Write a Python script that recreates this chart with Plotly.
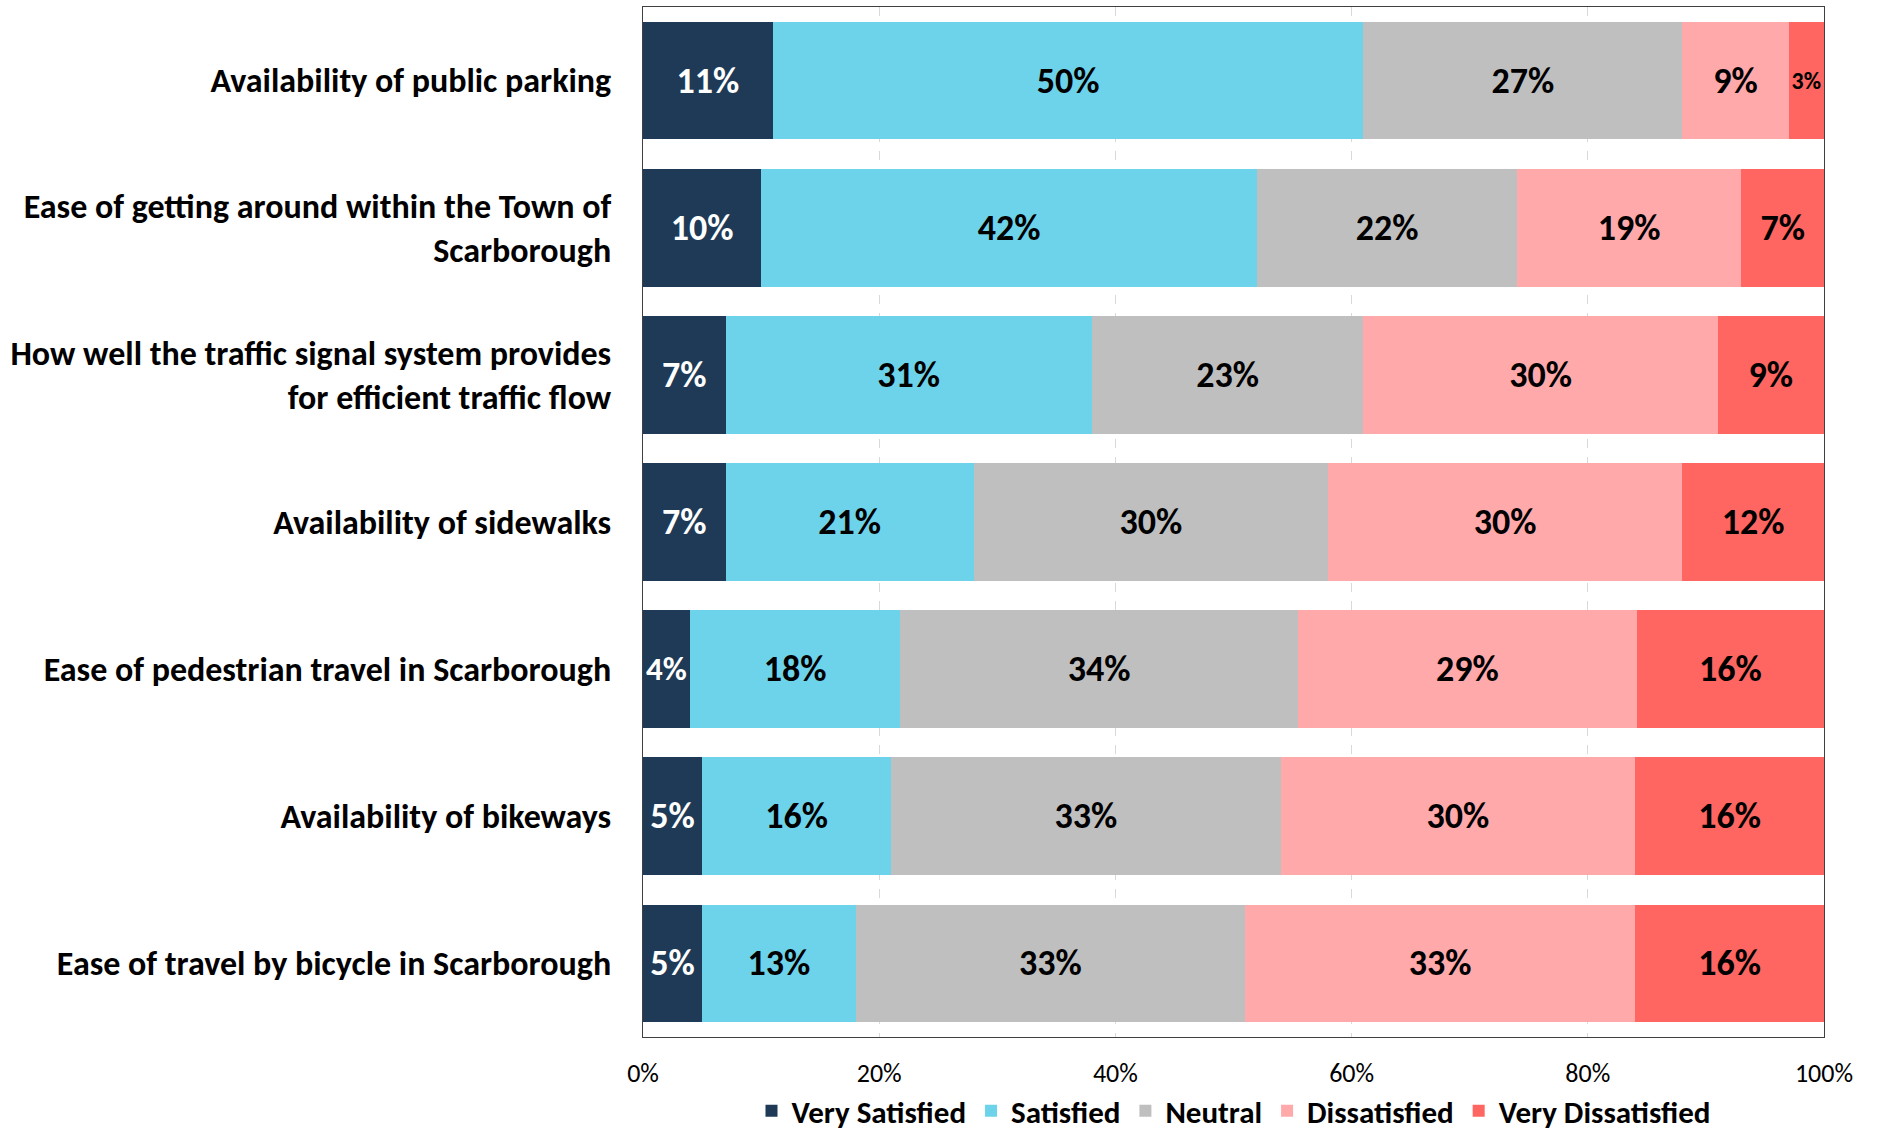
import plotly.graph_objects as go

# Survey items (top to bottom)
items = [
    "Availability of public parking",
    "Ease of getting around within the Town of<br>Scarborough",
    "How well the traffic signal system provides<br>for efficient traffic flow",
    "Availability of sidewalks",
    "Ease of pedestrian travel in Scarborough",
    "Availability of bikeways",
    "Ease of travel by bicycle in Scarborough",
]

# Share of responses per rating (%)
very_satisfied = [11, 10, 7, 7, 4, 5, 5]
satisfied = [50, 42, 31, 21, 18, 16, 13]
neutral = [27, 22, 23, 30, 34, 33, 33]
dissatisfied = [9, 19, 30, 30, 29, 30, 33]
very_dissatisfied = [3, 7, 9, 12, 16, 16, 16]

x_ticks = [0, 20, 40, 60, 80, 100]
x_tick_labels = ["0%", "20%", "40%", "60%", "80%", "100%"]

series = [
    ("Very Satisfied", very_satisfied, "#1F3A56", "white"),
    ("Satisfied", satisfied, "#6DD3EA", "black"),
    ("Neutral", neutral, "#BFBFBF", "black"),
    ("Dissatisfied", dissatisfied, "#FFA9AB", "black"),
    ("Very Dissatisfied", very_dissatisfied, "#FF6561", "black"),
]

FONT = "Carlito, Lato, sans-serif"

fig = go.Figure()
for name, vals, color, txt_color in series:
    fig.add_trace(go.Bar(
        name=name,
        y=items,
        x=vals,
        orientation="h",
        marker=dict(color=color, line=dict(width=0)),
        text=[f"{v}%" for v in vals],
        textposition="inside",
        insidetextanchor="middle",
        textangle=0,
        textfont=dict(family=FONT, size=36, color=txt_color, weight="bold"),
        hoverinfo="skip",
    ))

fig.update_layout(
    barmode="stack",
    barnorm="percent",
    bargap=0.2,
    width=1877,
    height=1140,
    margin=dict(l=643, r=53, t=7, b=103, autoexpand=False),
    plot_bgcolor="white",
    paper_bgcolor="white",
    font=dict(family=FONT, color="black"),
    showlegend=True,
    legend=dict(
        orientation="h",
        x=0.5,
        xanchor="center",
        y=-0.072,
        yanchor="middle",
        font=dict(family=FONT, size=31, color="black", weight="bold"),
        itemsizing="constant",
        traceorder="normal",
        tracegroupgap=0,
    ),
)

fig.update_xaxes(
    range=[0, 100],
    tickvals=x_ticks,
    ticktext=x_tick_labels,
    tickfont=dict(family=FONT, size=26, color="black"),
    ticks="",
    ticklabelstandoff=13,
    showgrid=True,
    gridcolor="#D9D9D9",
    griddash="dash",
    gridwidth=1,
    showline=True,
    linecolor="#404040",
    linewidth=1,
    mirror=True,
    zeroline=False,
    fixedrange=True,
)

fig.update_yaxes(
    categoryorder="array",
    categoryarray=items,
    autorange="reversed",
    tickfont=dict(family=FONT, size=34, color="black", weight="bold"),
    ticks="",
    ticklabelstandoff=24,
    showline=True,
    linecolor="#404040",
    linewidth=1,
    mirror=True,
    showgrid=False,
    fixedrange=True,
)

fig.write_html("out.html")
